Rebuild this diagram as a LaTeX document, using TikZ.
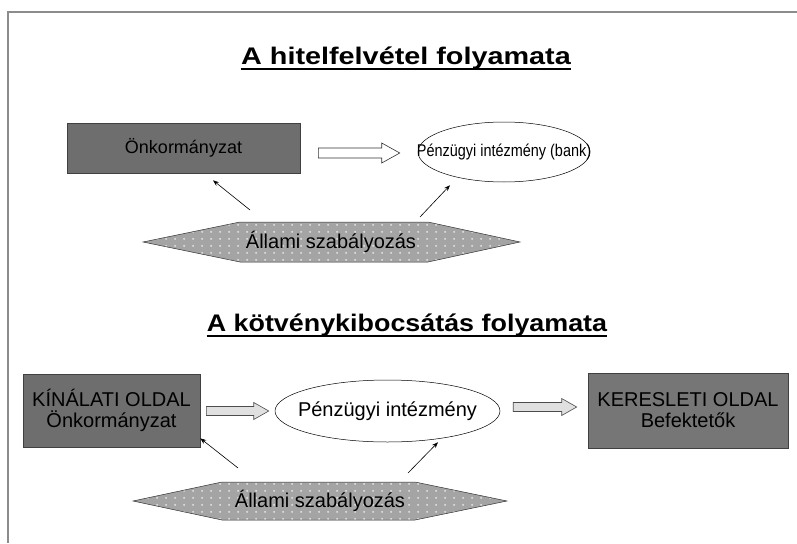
\documentclass[tikz,border=0pt]{standalone}
\usepackage{graphicx}
\usepackage{fontspec}
\setmainfont{Liberation Sans}
\usetikzlibrary{calc,shapes.geometric,patterns.meta,arrows.meta}
\definecolor{boxgray}{HTML}{6E6E6E}
\definecolor{boxgrayb}{HTML}{767676}
\definecolor{hexgray}{HTML}{A4A4A4}
\definecolor{hexdot}{HTML}{DEDEDE}
\definecolor{framegray}{HTML}{8C8C8C}
\tikzdeclarepattern{
  name=sparsedots,
  type=uncolored,
  bottom left={(0pt,0pt)},
  top right={(9pt,7pt)},
  tile size={(9pt,7pt)},
  code={\fill (4.5pt,3.5pt) circle (1.2pt);}
}
\newcommand\blockarr[6]{% style, start, end, shaft half, head half, head length
  \draw[#1] ($(#2)+(0,-#4)$) -- ($(#3)+(-#6,-#4)$) -- ($(#3)+(-#6,-#5)$) -- (#3)
    -- ($(#3)+(-#6,#5)$) -- ($(#3)+(-#6,#4)$) -- ($(#2)+(0,#4)$) -- cycle;}
\begin{document}
\begin{tikzpicture}[x=1pt,y=-1pt,
  title/.style={font=\fontsize{24}{28}\selectfont\bfseries, inner sep=0pt, anchor=base},
  darkbox/.style={draw=black!75, fill=boxgray, line width=0.6pt, inner sep=0pt, align=center, text=black},
  oval/.style={ellipse, draw=black, fill=white, line width=0.5pt, inner sep=0pt},
  hexa/.style={fill=hexgray, postaction={pattern=sparsedots, pattern color=hexdot}, postaction={draw=black!80, line width=0.5pt}},
  hollow/.style={draw=black!80, fill=white, line width=0.6pt},
  hollowgray/.style={draw=black!70, fill=black!12, line width=0.6pt},
  thinarr/.style={-{Stealth[length=6pt,width=4.5pt]}, line width=0.6pt, black},
  uline/.style={line width=1.8pt, black},
  txt/.style={inner sep=0pt, text=black}
]
\useasboundingbox (0,0) rectangle (797,543);
\fill[white] (0,0) rectangle (797,543);
% frame
\draw[framegray, line width=1.5pt] (8,543) -- (8,12) -- (797,12);

% ---------- top part ----------
\node[title] (t1) at (406,64) {\scalebox{1.2}[1]{A hitelfelvétel folyamata}};
\draw[uline] ($(t1.base west)+(0,5)$) -- ($(t1.base east)+(0,5)$);

\node[darkbox, minimum width=233pt, minimum height=50pt, font=\fontsize{18}{21}\selectfont] (onk1) at (183.5,148) {Önkormányzat};
\node[oval, minimum width=172pt, minimum height=60pt, font=\fontsize{17}{20}\selectfont] (bank1) at (504,152) {\makebox[0pt]{\scalebox{0.85}[1]{Pénzügyi intézmény (bank)}}};
\coordinate (a1s) at ($(onk1.east)+(18,5)$);
\coordinate (a1e) at ($(bank1.west)+(-18,1)$);
\blockarr{hollow}{a1s}{a1e}{5}{10}{18}

\coordinate (h1) at (331,242);
\path[hexa] ($(h1)+(-188,0)$) -- ($(h1)+(-91,-20)$) -- ($(h1)+(97,-20)$) -- ($(h1)+(189,0)$)
  -- ($(h1)+(97,20)$) -- ($(h1)+(-91,20)$) -- cycle;
\node[txt, font=\fontsize{20}{24}\selectfont] (reg1) at (h1) {Állami szabályozás};
\draw[thinarr] ($(h1)+(-81,-32)$) -- ($(onk1.south)+(29.5,7)$);
\draw[thinarr] ($(h1)+(89,-25)$) -- ($(bank1.south)+(-54,3)$);

% ---------- bottom part ----------
\node[title] (t2) at (407,331) {\scalebox{1.12}[1]{A kötvénykibocsátás folyamata}};
\draw[uline] ($(t2.base west)+(0,5)$) -- ($(t2.base east)+(0,5)$);

\node[darkbox, minimum width=177pt, minimum height=73pt, font=\fontsize{20}{21}\selectfont] (kin) at (111.5,410.5) {KÍNÁLATI OLDAL\\Önkormányzat};
\node[oval, minimum width=225pt, minimum height=62pt, font=\fontsize{20}{24}\selectfont] (bank2) at (387.5,411) {\makebox[0pt]{Pénzügyi intézmény}};
\node[darkbox, fill=boxgrayb, minimum width=200pt, minimum height=75pt, font=\fontsize{20}{21}\selectfont] (ker) at (688,410.5) {KERESLETI OLDAL\\Befektetők};

\coordinate (a2s) at ($(kin.east)+(6,0.5)$);
\coordinate (a2e) at ($(bank2.west)+(-6,0)$);
\blockarr{hollowgray}{a2s}{a2e}{4.5}{8.5}{15}
\coordinate (a3s) at ($(bank2.east)+(13,-4)$);
\coordinate (a3e) at ($(ker.west)+(-11,-3.5)$);
\blockarr{hollowgray}{a3s}{a3e}{4.5}{8.5}{15}

\coordinate (h2) at (320,501);
\path[hexa] ($(h2)+(-187,0)$) -- ($(h2)+(-98,-19)$) -- ($(h2)+(95,-19)$) -- ($(h2)+(187,0)$)
  -- ($(h2)+(95,19)$) -- ($(h2)+(-98,19)$) -- cycle;
\node[txt, font=\fontsize{20}{24}\selectfont] (reg2) at (h2) {Állami szabályozás};
\draw[thinarr] ($(h2)+(-82,-33)$) -- ($(kin.south east)+(0,-9)$);
\draw[thinarr] ($(h2)+(88,-28)$) -- ($(bank2.south)+(50.5,0)$);
\end{tikzpicture}
\end{document}
